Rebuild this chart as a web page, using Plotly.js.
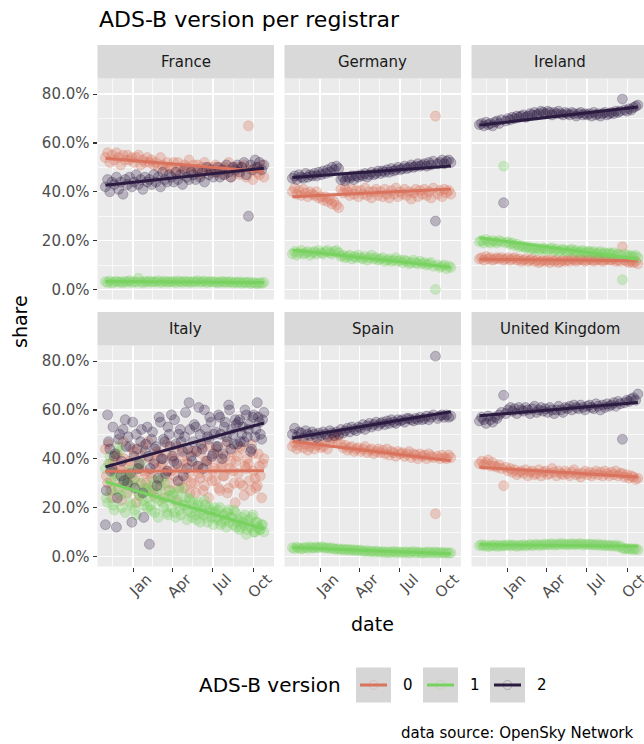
<!DOCTYPE html>
<html><head><meta charset="utf-8">
<script src="https://cdn.plot.ly/plotly-3.0.1.min.js"></script>
<style>html,body{margin:0;padding:0;overflow:hidden;background:#fff}#chart{width:652px;height:744px}</style>
</head><body><div id="chart"></div>
<script>
// ---------------- data ----------------
const countries = ['France', 'Germany', 'Ireland', 'Italy', 'Spain', 'United Kingdom'];
const versions = ['0', '1', '2'];
const xTickDates = ['2019-01-01', '2019-04-01', '2019-07-01', '2019-10-01'];
const xTickLabels = ['Jan', 'Apr', 'Jul', 'Oct'];
const yTickValues = [0, 20, 40, 60, 80];
const yTickLabels = ['0.0%', '20.0%', '40.0%', '60.0%', '80.0%'];

const dates = [
'2018-10-30','2018-11-04','2018-11-09','2018-11-14','2018-11-19','2018-11-24','2018-11-29','2018-12-04','2018-12-09','2018-12-14',
'2018-12-19','2018-12-24','2018-12-29','2019-01-03','2019-01-08','2019-01-13','2019-01-18','2019-01-23','2019-01-28','2019-02-02',
'2019-02-07','2019-02-12','2019-02-17','2019-02-22','2019-02-27','2019-03-04','2019-03-09','2019-03-14','2019-03-19','2019-03-24',
'2019-03-29','2019-04-03','2019-04-08','2019-04-13','2019-04-18','2019-04-23','2019-04-28','2019-05-03','2019-05-08','2019-05-13',
'2019-05-18','2019-05-23','2019-05-28','2019-06-02','2019-06-07','2019-06-12','2019-06-17','2019-06-22','2019-06-27','2019-07-02',
'2019-07-07','2019-07-12','2019-07-17','2019-07-22','2019-07-27','2019-08-01','2019-08-06','2019-08-11','2019-08-16','2019-08-21',
'2019-08-26','2019-08-31','2019-09-05','2019-09-10','2019-09-15','2019-09-20','2019-09-25','2019-09-30','2019-10-05','2019-10-10',
'2019-10-15','2019-10-20','2019-10-25'];

// extra days read for Italy (its cloud is much wider, so it is sampled twice as densely)
const italyExtraDates = [
'2018-11-01','2018-11-06','2018-11-11','2018-11-16','2018-11-21','2018-11-26','2018-12-01','2018-12-06','2018-12-11','2018-12-16',
'2018-12-21','2018-12-26','2018-12-31','2019-01-05','2019-01-10','2019-01-15','2019-01-20','2019-01-25','2019-01-30','2019-02-04',
'2019-02-09','2019-02-14','2019-02-19','2019-02-24','2019-03-01','2019-03-06','2019-03-11','2019-03-16','2019-03-21','2019-03-26',
'2019-03-31','2019-04-05','2019-04-10','2019-04-15','2019-04-20','2019-04-25','2019-04-30','2019-05-05','2019-05-10','2019-05-15',
'2019-05-20','2019-05-25','2019-05-30','2019-06-04','2019-06-09','2019-06-14','2019-06-19','2019-06-24','2019-06-29','2019-07-04',
'2019-07-09','2019-07-14','2019-07-19','2019-07-24','2019-07-29','2019-08-03','2019-08-08','2019-08-13','2019-08-18','2019-08-23',
'2019-08-28','2019-09-02','2019-09-07','2019-09-12','2019-09-17','2019-09-22','2019-09-27','2019-10-02','2019-10-07','2019-10-12',
'2019-10-17','2019-10-22'];

// share in percent, version 0 / 1 / 2 per registrar country
const franceV0 = [
54,56,52,55,53,56,54,51,55,53, 55,53,54,52,54,55,51,53,52,54, 52,53,51,52,50,54,51,49,52,50,
50,52,48,52,50,49,51,50,53,48, 51,49,51,47,50,52,49,50,48,50, 51,48,50,47,50,49,52,46,50,48,
50,47,50,51,46,67,49,45,50,48, 47,51,46];
const franceV1 = [
3.2,2.8,3.5,2.6,3.0,3.4,2.9,3.1,2.7,3.3, 3.0,3.6,2.8,3.2,2.9,4.6,3.1,2.7,3.3,3.0, 3.5,2.9,3.2,3.0,3.6,2.8,3.1,3.4,2.9,3.2,
3.0,3.3,2.7,3.5,3.1,2.9,3.4,3.0,3.2,2.8, 3.3,3.0,3.6,2.9,3.2,3.4,2.8,3.1,3.3,2.9, 3.2,2.7,3.0,3.3,2.8,3.1,2.9,3.2,2.6,3.0,
2.8,3.1,2.5,2.9,2.7,3.0,2.4,2.8,2.6,2.3, 2.7,2.5,2.9];
const franceV2 = [
42,45,40,44,43,46,41,44,39,45, 43,46,42,44,47,43,45,41,46,44, 45,43,47,44,46,42,48,45,44,47,
46,44,48,45,47,43,49,46,45,48, 47,45,49,46,48,44,50,47,49,46, 48,50,46,49,47,51,48,46,50,49,
51,48,50,52,47,30,51,49,53,50, 52,49,51];

const germanyV0 = [
40,41.5,39,40.5,38.5,41,39.5,38,40,39, 38.5,40,37.5,38,36.5,38,36,37,35,36, 34.5,33.5,41,39.5,41.5,40,38.5,41,39,40.5,
38,40.5,39,41.5,38.5,40,37.5,40,41,38.5, 40,38,41,39,37.5,40.5,39,41.5,38,40, 39,41,38.5,40,37,39.5,41,38,40.5,39,
41,38.5,40,37.5,41.5,71,39,40.5,38,41, 39.5,40.5,39];
const germanyV1 = [
14.5,15.5,14,15,16,14.5,15,15.5,14,15, 15.5,14.5,16,15,14.5,15.5,16,15,14.5,15.5, 16,15,13.5,14,13,13.5,14,12.5,13.5,13,
14,13,12.5,13.5,12,13,14,12.5,13,12, 12.5,13,11.5,12,12.5,11.5,12,13,11.5,12, 11,12,11.5,10.5,11,12,11,10.5,11.5,10.5,
11,10,10.5,11,9.5,0,10,9,9.5,10, 8.5,9.5,9];
const germanyV2 = [
45.5,46.5,45,47,46,45.5,47.5,46,47,46.5, 47.5,46.5,48,47,48.5,47.5,49,48,50,49, 50.5,49.5,45,46,44.5,46,45.5,46.5,45,46.5,
46,47,46.5,47.5,46,47,48,47,47.5,48.5, 47.5,48.5,48,49,48,49.5,48.5,49,50,49, 49.5,50.5,49.5,50,51,50,50.5,51.5,50.5,51,
51.5,50.5,52,51,52.5,28,51.5,52,53,51.5, 52.5,53,52];

const irelandV0 = [
12.5,13,12,13.5,12.5,13,12,12.5,13,12.5, 13,12,12.5,13,12,12.5,13,12,12.5,11.5, 12,12.5,11.5,12,12.5,11.5,12,11,11.5,12,
11.5,12,11,12,11.5,12,11,11.5,12,11.5, 12,11.5,12.5,12,11.5,12,12.5,12,11.5,12, 12.5,12,11.5,12,12.5,12,11.5,12,12.5,12,
12,12.5,11.5,12,11.5,17.5,12,11.5,11,11.5, 11,11.5,10.5];
const irelandV1 = [
19.5,20,19,20.5,19.5,19,20,19.5,19,20, 19.5,50.5,19,19.5,18.5,19,18,18.5,17.5,18, 17.5,17,17.5,16.5,17,16.5,17,16,16.5,17,
16.5,16,16.5,17,16,16.5,15.5,16,16.5,16, 15.5,16,16.5,15.5,16,15,15.5,16,15,15.5, 15.5,15,15.5,14.5,15,15.5,14.5,15,14.5,15,
14.5,15,14,14.5,14,4,14.5,13.5,14,13.5, 13.5,14,13];
const irelandV2 = [
67.5,68,67,68.5,67.5,68,67,68.5,69,68, 69.5,35.5,69,70,69.5,70.5,70,71,70.5,71, 71.5,70.5,71,72,71.5,72.5,71.5,72,73,72.5,
72,73,72.5,71.5,72.5,72,73,72,71.5,72.5, 72,71.5,72.5,72,71,72,72.5,71.5,72,71.5, 72,71,72.5,71.5,72,71,72,72.5,71.5,72,
72.5,72,73,72.5,73,78,73.5,73,74,73.5, 74.5,75,75.5];

const italyV0 = [
44,30,38,24,35,41,28,36,47,31, 26,39,33,43,22,37,30,45,34,28, 40,32,25,36,42,29,38,33,46,27,
35,41,23,37,31,44,28,39,34,30, 43,26,36,32,45,29,38,24,40,35, 31,42,27,37,33,46,28,39,35,22,
41,30,44,25,36,38,27,42,32,29, 37,24,40];
const italyV0Extra = [
33,46,27,39,31,42,36,23,40,34, 38,29,44,32,36,25,41,35,30,47, 34,27,39,43,31,37,24,42,35,30,
40,33,45,28,36,41,32,38,26,43, 30,37,34,42,27,39,33,45,31,36, 44,28,38,33,41,26,36,43,30,39,
34,45,29,37,40,31,46,35,28,42, 33,38];
const italyV1 = [
36,22,41,27,19,33,45,25,30,18, 29,35,21,31,17,26,38,23,28,20, 27,19,31,24,16,28,22,30,18,25,
20,26,16,23,19,28,21,15,24,18, 22,17,21,14,19,23,16,20,18,13, 18,15,20,14,17,12,19,16,13,18,
14,11,16,13,9,15,12,17,10,14, 11,13,10];
const italyV1Extra = [
24,38,31,21,34,27,43,20,32,26, 33,22,29,19,36,25,30,21,27,24, 21,29,18,26,23,32,20,24,17,27,
25,18,22,27,17,21,24,19,23,16, 20,15,22,18,17,21,14,19,16,20, 16,19,13,17,15,18,14,16,19,12,
15,12,14,17,11,13,16,10,14,12, 11,13];
const italyV2 = [
13,58,44,36,41,12,48,33,52,56, 30,45,14,41,50,36,47,26,43,53, 5,48,38,45,32,55,40,47,35,50,
58,39,46,31,52,43,49,36,63,41, 47,53,37,50,44,60,39,48,55,42, 51,45,57,40,53,49,62,44,50,56,
46,56,50,47,58,52,43,57,49,63, 55,48,59];
const italyV2Extra = [
27,47,35,53,42,24,50,39,31,45, 49,34,55,28,44,38,52,16,46,41, 36,51,44,29,57,40,48,34,53,45,
41,56,38,50,47,33,59,44,52,39, 54,43,61,46,36,52,49,57,41,50, 45,58,50,42,55,47,60,52,46,54,
55,47,53,60,49,54,44,58,52,57, 50,56];

const spainV0 = [
45,46.5,44,45.5,47,44.5,46,43.5,45,46.5, 44,45.5,46,44.5,45,47,44,46.5,48,49, 47.5,49.5,46,44.5,45.5,43.5,44.5,45,43,44,
44.5,43,44,45,42.5,43.5,44,42,43,44, 42.5,43.5,42,44,41.5,43,42.5,41,43,42, 42.5,41,42,43,40.5,42,41.5,40,42,41,
41.5,40,42,41,40.5,17.5,41,40,41.5,40.5, 40,41.5,40.5];
const spainV1 = [
3.6,3.2,3.8,3.4,3.0,3.5,3.7,3.3,3.9,3.4, 3.6,3.8,3.5,4.0,3.7,3.4,3.6,3.3,3.5,3.1, 2.9,3.2,2.7,3.0,2.6,2.9,2.5,2.8,2.4,2.7,
2.3,2.6,2.2,2.0,2.4,1.9,2.1,1.8,2.2,1.9, 1.7,2.0,1.6,1.9,1.5,1.8,2.0,1.6,1.9,1.5, 1.8,1.6,1.9,1.4,1.7,2.0,1.5,1.8,1.6,1.3,
1.7,1.5,1.9,1.4,1.6,1.8,1.3,1.7,1.5,1.4, 1.6,1.3,1.5];
const spainV2 = [
50,52.5,49,51,50.5,48.5,51.5,50,49.5,51, 50,48.5,50.5,49.5,51,50,49,51.5,50.5,49.5, 51,50,52,50.5,51.5,52.5,51,53,52,51.5,
53,52.5,54,52,53.5,54.5,53,54,55,53.5, 54.5,55,54,55.5,54.5,56,55,54.5,56,55.5, 56,55,56.5,56.5,56,55.5,56.5,56,57,56,
56.5,57.5,56,57,58,82,56.5,57.5,58,57, 58,57,57.5];

const ukV0 = [
38,39,37.5,38.5,39.5,37,38.5,37,36.5,37.5, 36,29,36.5,35,36,34.5,35.5,33.5,34.5,35, 34,35.5,33,34.5,35,33.5,34,35.5,33,34.5,
35,33.5,34,36,34.5,33,35,34,33.5,35, 34,33,34.5,35.5,33.5,34,32.5,34,35,33.5, 34.5,33,34,35,33.5,34.5,33,35,34,33,
34.5,33.5,35,33,34,34,32.5,33.5,32,33, 32.5,31.5,32];
const ukV1 = [
4.4,4.8,4.2,4.6,4.0,4.5,4.3,4.7,4.1,4.5, 4.2,4.6,4.4,4.8,4.3,4.7,4.5,4.1,4.6,4.4, 4.8,4.3,4.6,4.9,4.4,4.7,5.0,4.5,4.8,4.6,
5.1,4.7,4.9,5.2,4.6,5.0,4.8,5.3,4.9,5.1, 4.7,5.0,5.2,4.8,5.1,4.9,5.3,4.7,5.0,4.8, 5.1,4.7,4.9,4.6,5.0,4.5,4.8,4.4,4.7,4.3,
4.5,4.2,4.6,4.0,4.3,3.4,3.0,3.3,2.9,3.2, 2.8,3.1,2.7];
const ukV2 = [
55.5,57,56,54.5,57.5,56,55,57,56.5,58, 59,66,58.5,60,61,59.5,60.5,58.5,61,60, 59.5,61,60,58.5,60.5,61.5,59,60,61,59.5,
60.5,59,61,60,58.5,60,61.5,60,59,61, 60.5,61.5,60,62,61,60.5,62,61,60,61.5, 62,61,60.5,62.5,61.5,60,62,61,62.5,61.5,
62,63,61.5,63.5,62.5,48,63,64,63.5,64.5, 65,64,66.5];

const seriesDates = {
  'France': dates, 'Germany': dates, 'Ireland': dates,
  'Italy': dates.concat(italyExtraDates), 'Spain': dates, 'United Kingdom': dates
};
const shares = {
  'France': [franceV0, franceV1, franceV2],
  'Germany': [germanyV0, germanyV1, germanyV2],
  'Ireland': [irelandV0, irelandV1, irelandV2],
  'Italy': [italyV0.concat(italyV0Extra), italyV1.concat(italyV1Extra), italyV2.concat(italyV2Extra)],
  'Spain': [spainV0, spainV1, spainV2],
  'United Kingdom': [ukV0, ukV1, ukV2]
};

// ---------------- styling / geometry ----------------
const W = 652, H = 744;
const FONT = 'DejaVu Sans, sans-serif';
const lineColors = ['#D9735E', '#78D25F', '#2C1B41'];
const pointFill = ['rgba(217,115,94,0.3)', 'rgba(120,210,95,0.3)', 'rgba(44,27,65,0.27)'];
const pointRim = ['rgba(217,115,94,0.24)', 'rgba(120,210,95,0.24)', 'rgba(44,27,65,0.24)'];
const colPx = [[97.5, 274], [284.5, 461], [471.5, 648]];
const rowPx = [[78.5, 299.5], [345.5, 566.5]];
const stripPx = [[45, 78.5], [312, 345.5]];
const px = v => v / W;
const py = v => 1 - v / H;

function linfit(xs, ys) {
  const t = xs.map(d => Date.parse(d) / 864e5);
  const n = t.length;
  const mt = t.reduce((a, b) => a + b, 0) / n;
  const my = ys.reduce((a, b) => a + b, 0) / n;
  let sxy = 0, sxx = 0;
  for (let i = 0; i < n; i++) { sxy += (t[i] - mt) * (ys[i] - my); sxx += (t[i] - mt) ** 2; }
  const b = sxy / sxx;
  return d => my + b * (Date.parse(d) / 864e5 - mt);
}

const pointTraces = [], lineTraces = [];
const layout = {
  width: W, height: H, autosize: false,
  margin: {l: 0, r: 0, t: 0, b: 0},
  paper_bgcolor: '#FFFFFF', plot_bgcolor: '#EBEBEB',
  showlegend: false,
  font: {family: FONT, color: '#000000'},
  shapes: [], annotations: []
};

countries.forEach((c, i) => {
  const r = Math.floor(i / 3), k = i % 3;
  const sfx = i === 0 ? '' : String(i + 1);
  const xs = seriesDates[c];
  const first = xs.reduce((a, b) => (a < b ? a : b));
  const last = xs.reduce((a, b) => (a > b ? a : b));
  shares[c].forEach((vals, v) => {
    pointTraces.push({
      type: 'scatter', mode: 'markers', x: xs, y: vals,
      xaxis: 'x' + sfx, yaxis: 'y' + sfx, hoverinfo: 'skip',
      marker: {size: 10, color: pointFill[v], line: {width: 1, color: pointRim[v]}}
    });
    const f = linfit(xs, vals);
    lineTraces.push({
      type: 'scatter', mode: 'lines', x: [first, last], y: [f(first), f(last)],
      xaxis: 'x' + sfx, yaxis: 'y' + sfx, hoverinfo: 'skip',
      line: {color: lineColors[v], width: 3}
    });
  });
  layout['xaxis' + sfx] = {
    domain: [px(colPx[k][0]), px(colPx[k][1])], anchor: 'y' + sfx,
    type: 'date', range: ['2018-10-12', '2019-11-17'], fixedrange: true,
    tickmode: 'array', tickvals: xTickDates, ticktext: xTickLabels,
    showticklabels: r === 1, ticks: r === 1 ? 'outside' : '',
    ticklen: 4, tickwidth: 1.2, tickcolor: '#333333', tickangle: -45,
    ticklabelshift: 14, ticklabelstandoff: -7,
    tickfont: {family: FONT, size: 15, color: '#4D4D4D'},
    showgrid: true, gridcolor: '#FFFFFF', gridwidth: 1.4,
    zeroline: false, showline: false,
    minor: {tickmode: 'array', tickvals: ['2018-11-16', '2019-02-15', '2019-05-16', '2019-08-16', '2019-11-16'],
            showgrid: true, gridcolor: '#FFFFFF', gridwidth: 0.7, ticks: ''}
  };
  layout['yaxis' + sfx] = {
    domain: [py(rowPx[r][1]), py(rowPx[r][0])], anchor: 'x' + sfx,
    range: [-4.12, 86.4], fixedrange: true,
    tickmode: 'array', tickvals: yTickValues, ticktext: yTickLabels,
    showticklabels: k === 0, ticks: k === 0 ? 'outside' : '',
    ticklen: 4, tickwidth: 1.2, tickcolor: '#333333',
    tickfont: {family: FONT, size: 15, color: '#4D4D4D'},
    showgrid: true, gridcolor: '#FFFFFF', gridwidth: 1.4,
    zeroline: false, showline: false,
    minor: {tickmode: 'array', tickvals: [10, 30, 50, 70], showgrid: true, gridcolor: '#FFFFFF', gridwidth: 0.7, ticks: ''}
  };
  // strip
  layout.shapes.push({type: 'rect', xref: 'paper', yref: 'paper', layer: 'below',
    x0: px(colPx[k][0]), x1: px(colPx[k][1]), y0: py(stripPx[r][1]), y1: py(stripPx[r][0]),
    fillcolor: '#D9D9D9', line: {width: 0}});
  layout.annotations.push({xref: 'paper', yref: 'paper', showarrow: false,
    x: px((colPx[k][0] + colPx[k][1]) / 2), y: py((stripPx[r][0] + stripPx[r][1]) / 2),
    xanchor: 'center', yanchor: 'middle', text: c,
    font: {family: FONT, size: 15, color: '#1A1A1A'}});
});

// titles
layout.annotations.push({xref: 'paper', yref: 'paper', showarrow: false, x: px(97), y: py(20),
  xanchor: 'left', yanchor: 'middle', text: 'ADS-B version per registrar', font: {family: FONT, size: 22, color: '#000'}});
layout.annotations.push({xref: 'paper', yref: 'paper', showarrow: false, x: px(20), y: py(322),
  xanchor: 'center', yanchor: 'middle', textangle: -90, text: 'share', font: {family: FONT, size: 19, color: '#000'}});
layout.annotations.push({xref: 'paper', yref: 'paper', showarrow: false, x: px(372), y: py(624),
  xanchor: 'center', yanchor: 'middle', text: 'date', font: {family: FONT, size: 19, color: '#000'}});

// legend (drawn manually, ggplot style)
layout.annotations.push({xref: 'paper', yref: 'paper', showarrow: false, x: px(197), y: py(685),
  xanchor: 'left', yanchor: 'middle', text: 'ADS-B version', font: {family: FONT, size: 20, color: '#000'}});
const keyX = [356, 423, 490];
versions.forEach((lab, v) => {
  const x0 = keyX[v];
  layout.shapes.push({type: 'rect', xref: 'paper', yref: 'paper', x0: px(x0), x1: px(x0 + 35), y0: py(702.5), y1: py(667.5),
    fillcolor: '#D6D6D6', line: {width: 0}});
  layout.shapes.push({type: 'circle', xref: 'paper', yref: 'paper', x0: px(x0 + 13), x1: px(x0 + 22), y0: py(689.5), y1: py(680.5),
    fillcolor: 'rgba(255,255,255,0)', line: {width: 1, color: pointRim[v]}});
  layout.shapes.push({type: 'line', xref: 'paper', yref: 'paper', x0: px(x0 + 4), x1: px(x0 + 31), y0: py(685), y1: py(685),
    line: {width: 3, color: lineColors[v]}});
  layout.annotations.push({xref: 'paper', yref: 'paper', showarrow: false, x: px(x0 + 45), y: py(685),
    xanchor: 'left', yanchor: 'middle', text: lab, font: {family: FONT, size: 15, color: '#000'}});
});

// caption
layout.annotations.push({xref: 'paper', yref: 'paper', showarrow: false, x: px(399), y: py(733),
  xanchor: 'left', yanchor: 'middle', text: 'data source: OpenSky Network', font: {family: FONT, size: 15, color: '#000'}});

Plotly.newPlot('chart', pointTraces.concat(lineTraces), layout, {staticPlot: true, displayModeBar: false});
</script></body></html>
